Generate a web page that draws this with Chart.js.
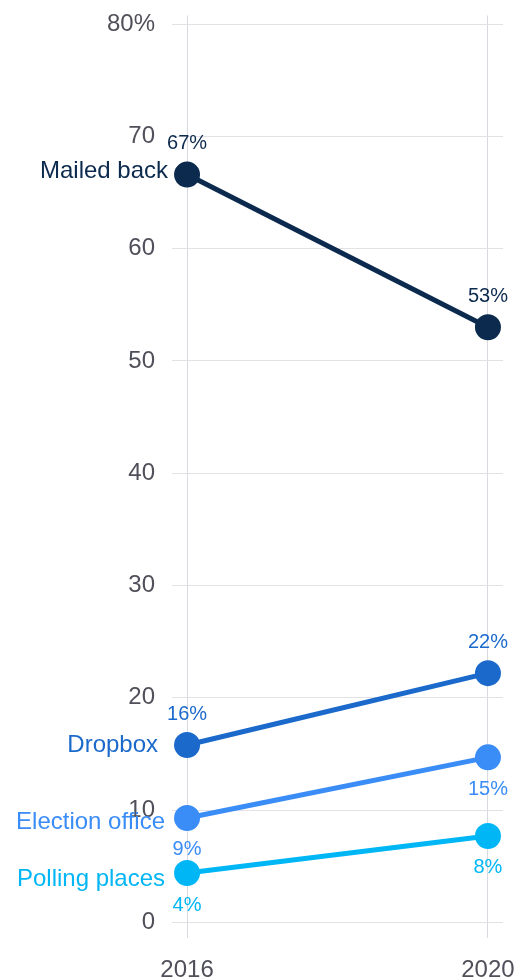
<!DOCTYPE html>
<html>
<head>
<meta charset="utf-8">
<script src="https://cdn.jsdelivr.net/npm/chart.js@4/dist/chart.umd.min.js"></script>
<style>
  html, body { margin: 0; padding: 0; background: #fff; }
  #wrap { width: 523px; height: 980px; }
</style>
</head>
<body>
<div id="wrap"><canvas id="chart"></canvas></div>
<script>
// --------------------- Data ---------------------
const years = [2016, 2020];
const seriesNames = ['Mailed back', 'Dropbox', 'Election office', 'Polling places'];
const mailedBack = [66.6, 53.0];
const dropbox = [15.8, 22.2];
const electionOffice = [9.3, 14.7];
const pollingPlaces = [4.4, 7.7];
const yTicks = [0, 10, 20, 30, 40, 50, 60, 70, 80];

// --------------------- Styles ---------------------
const colors = ['#0c2a4d', '#1b6acb', '#3a8cf6', '#00b6f5'];
const valuePlacement = ['above', 'above', 'below', 'below'];
const nameGap = [19, 29, 22, 22];      // px between series name and first point
const nameShift = [-3, 0, 4, 6];       // vertical nudge of series name
const allValues = [mailedBack, dropbox, electionOffice, pollingPlaces];

const FONT = 'Arial, "Liberation Sans", sans-serif';

// draws value labels and series names next to the points
const labelPlugin = {
  id: 'pointLabels',
  afterDatasetsDraw(chart) {
    const ctx = chart.ctx;
    ctx.save();
    chart.data.datasets.forEach((ds, i) => {
      const meta = chart.getDatasetMeta(i);
      meta.data.forEach((pt, j) => {
        ctx.fillStyle = ds.borderColor;
        ctx.font = '20px ' + FONT;
        ctx.textAlign = 'center';
        ctx.textBaseline = 'middle';
        const dy = valuePlacement[i] === 'above' ? -31 : 32;
        ctx.fillText(Math.round(ds.data[j].y) + '%', pt.x, pt.y + dy);
        if (j === 0) {
          ctx.font = '24px ' + FONT;
          ctx.textAlign = 'right';
          ctx.fillText(ds.label, pt.x - nameGap[i], pt.y + nameShift[i]);
        }
      });
    });
    ctx.restore();
  }
};

const datasets = seriesNames.map((name, i) => ({
  label: name,
  data: years.map((yr, j) => ({ x: yr, y: allValues[i][j] })),
  borderColor: colors[i],
  backgroundColor: colors[i],
  borderWidth: 5,
  pointRadius: 10.5,
  pointHoverRadius: 10.5,
  fill: false
}));

new Chart(document.getElementById('chart'), {
  type: 'line',
  data: { datasets },
  plugins: [labelPlugin],
  options: {
    responsive: true,
    maintainAspectRatio: false,
    animation: false,
    layout: { padding: { top: 0, right: 20, left: 0, bottom: 0 } },
    plugins: { legend: { display: false }, tooltip: { enabled: false } },
    scales: {
      x: {
        type: 'linear',
        min: 2015.8,
        max: 2020.2,
        afterBuildTicks: s => { s.ticks = years.map(v => ({ value: v })); },
        afterFit: s => { s.height = 42; s.paddingLeft = 0; s.paddingRight = 0; },
        grid: { color: '#d9d9e0', drawTicks: false },
        border: { display: false },
        ticks: {
          color: '#50505a',
          font: { size: 24, family: FONT },
          padding: 18,
          maxRotation: 0,
          callback: v => String(v)
        }
      },
      y: {
        min: -1.39,
        max: 80.77,
        afterBuildTicks: s => { s.ticks = yTicks.map(v => ({ value: v })); },
        afterFit: s => { s.width = 172; s.paddingTop = 0; s.paddingBottom = 0; },
        grid: { color: '#e2e2e6', drawTicks: false },
        border: { display: false },
        ticks: {
          color: '#50505a',
          font: { size: 24, family: FONT },
          padding: 17,
          callback: v => v === 80 ? '80%' : String(v)
        }
      }
    }
  }
});
</script>
</body>
</html>
